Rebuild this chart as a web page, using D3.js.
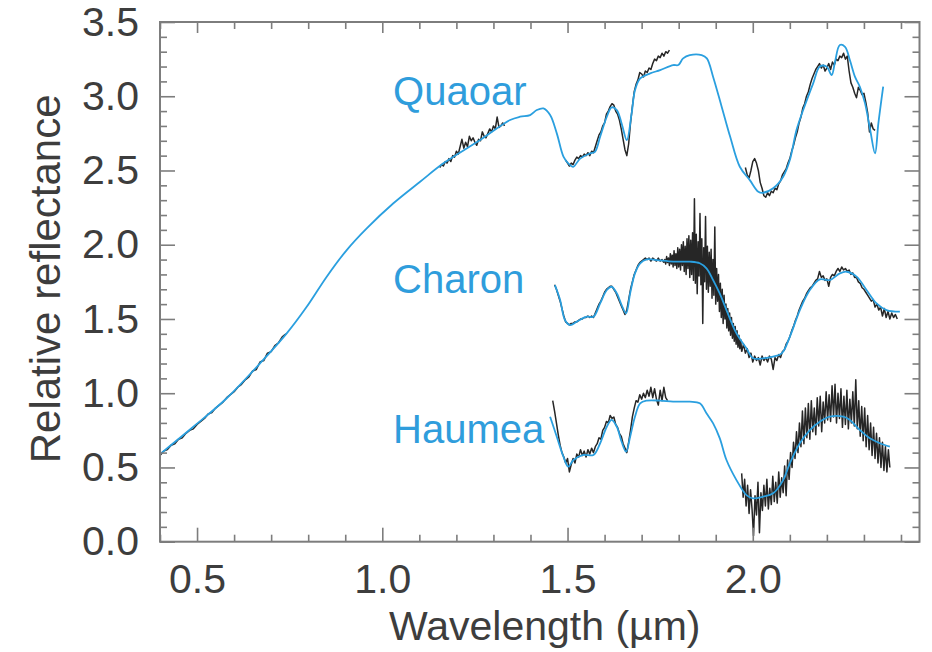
<!DOCTYPE html>
<html>
<head>
<meta charset="utf-8">
<script src="https://cdn.jsdelivr.net/npm/d3@7"></script>
<style>
  html, body { margin: 0; padding: 0; background: #fff; }
  svg { display: block; }
  text { font-family: "Liberation Sans", Arial, Helvetica, sans-serif; }
</style>
</head>
<body>
<svg id="chart" width="932" height="652"></svg>
<script>
// ---------------- DATA ----------------
const xMajorTicks = [0.5, 1.0, 1.5, 2.0];
const xMajorLabels = ["0.5", "1.0", "1.5", "2.0"];
const xMinorTicks = [0.4,0.6,0.7,0.8,0.9,1.1,1.2,1.3,1.4,1.6,1.7,1.8,1.9,2.1,2.2,2.3,2.4];
const yMajorTicks = [0.0, 0.5, 1.0, 1.5, 2.0, 2.5, 3.0, 3.5];
const yMajorLabels = ["0.0", "0.5", "1.0", "1.5", "2.0", "2.5", "3.0", "3.5"];
const yMinorTicks = [0.1,0.2,0.3,0.4,0.6,0.7,0.8,0.9,1.1,1.2,1.3,1.4,1.6,1.7,1.8,1.9,2.1,2.2,2.3,2.4,2.6,2.7,2.8,2.9,3.1,3.2,3.3,3.4];

const seriesNames = ["Quaoar", "Charon", "Haumea"];
// label anchor in data coords [wavelength, reflectance]
const labelAnchors = [[1.029, 2.94], [1.029, 1.677], [1.029, 0.663]];

// Model spectra (blue) [wavelength µm, relative reflectance]
const quaoarModel = [
  [0.40,0.59],[0.49,0.774],[0.58,0.966],[0.67,1.201],[0.742,1.403],[0.796,1.582],
  [0.85,1.785],[0.904,1.964],[0.958,2.11],[1.03,2.279],[1.102,2.424],[1.165,2.548],
  [1.264,2.705],[1.345,2.84],[1.372,2.862],[1.399,2.873],[1.417,2.907],[1.435,2.918],
  [1.453,2.873],[1.471,2.75],[1.489,2.593],[1.502,2.548],[1.515,2.525],[1.534,2.58],
  [1.561,2.615],[1.574,2.626],[1.588,2.727],[1.606,2.862],[1.619,2.925],[1.633,2.907],
  [1.646,2.817],[1.66,2.705],[1.673,2.884],[1.682,3.04],[1.696,3.12],[1.723,3.154],
  [1.75,3.176],[1.785,3.21],[1.799,3.21],[1.812,3.255],[1.83,3.277],[1.862,3.277],
  [1.876,3.255],[1.893,3.13],[1.916,2.93],[1.939,2.727],[1.965,2.525],[1.992,2.435],
  [2.015,2.357],[2.028,2.35],[2.055,2.38],[2.082,2.458],[2.1,2.57],[2.118,2.772],
  [2.136,2.907],[2.163,3.087],[2.181,3.2],[2.199,3.2],[2.213,3.143],[2.222,3.232],
  [2.235,3.345],[2.249,3.333],[2.262,3.244],[2.276,3.13],[2.289,3.064],[2.303,2.952],
  [2.317,2.772],[2.33,2.615],[2.339,2.817],[2.352,3.064]
];
const charonModel = [
  [1.466,1.728],[1.48,1.628],[1.493,1.493],[1.507,1.459],[1.525,1.482],[1.552,1.515],
  [1.570,1.515],[1.588,1.605],[1.606,1.695],[1.619,1.717],[1.633,1.673],[1.646,1.594],
  [1.658,1.538],[1.669,1.673],[1.682,1.807],[1.696,1.875],[1.714,1.902],[1.741,1.897],
  [1.785,1.886],[1.830,1.886],[1.857,1.875],[1.875,1.841],[1.893,1.762],[1.911,1.67],
  [1.929,1.56],[1.956,1.403],[1.983,1.302],[2.001,1.235],[2.028,1.235],[2.055,1.246],
  [2.078,1.268],[2.100,1.38],[2.127,1.56],[2.154,1.695],[2.181,1.767],[2.208,1.762],
  [2.235,1.807],[2.253,1.818],[2.280,1.785],[2.307,1.695],[2.334,1.605],[2.361,1.56],
  [2.397,1.549]
];
const haumeaModel = [
  [1.453,0.842],[1.471,0.707],[1.489,0.572],[1.502,0.505],[1.516,0.55],[1.543,0.584],
  [1.570,0.584],[1.588,0.663],[1.606,0.774],[1.619,0.82],[1.633,0.774],[1.646,0.673],
  [1.658,0.606],[1.669,0.707],[1.682,0.842],[1.696,0.932],[1.714,0.95],[1.750,0.95],
  [1.785,0.943],[1.830,0.943],[1.857,0.932],[1.875,0.865],[1.893,0.797],[1.911,0.696],
  [1.929,0.55],[1.956,0.415],[1.983,0.314],[2.001,0.292],[2.028,0.303],[2.055,0.326],
  [2.082,0.415],[2.100,0.528],[2.127,0.663],[2.154,0.752],[2.181,0.808],[2.208,0.842],
  [2.244,0.842],[2.262,0.82],[2.289,0.752],[2.316,0.696],[2.343,0.663],[2.370,0.64]
];

// Observed spectra (black): start wavelength, sampling step, reflectance values
const quaoarObs0 = { start: 0.40, step: 0.01, r: [
  0.58,0.61,0.62,0.65,0.66,0.69,0.70,0.73,0.75,0.76,0.79,0.81,0.83,0.86,0.87,0.90,0.92,0.94,
  0.97,0.99,1.01,1.04,1.06,1.09,1.11,1.15,1.16,1.21,1.22,1.27,1.28,1.32,1.34,1.38,1.40 ] };
const quaoarObs1 = { start: 1.155, step: 0.005, r: [
  2.52,2.54,2.53,2.56,2.55,2.58,2.56,2.60,2.59,2.63,2.61,2.66,2.71,2.65,2.69,2.66,2.73,2.70,
  2.72,2.69,2.67,2.71,2.70,2.76,2.73,2.72,2.75,2.78,2.76,2.80,2.78,2.86,2.79,2.80,2.82,2.80 ] };
const quaoarObs2 = { start: 1.495, step: 0.005, r: [
  2.57,2.55,2.53,2.55,2.54,2.57,2.59,2.58,2.60,2.59,2.61,2.60,2.62,2.60,2.63,2.62,2.66,2.70,
  2.74,2.76,2.80,2.82,2.88,2.90,2.93,2.95,2.94,2.90,2.88,2.84,2.78,2.71,2.64,2.60,2.68,2.82,
  2.93,3.03,3.08,3.11,3.16,3.15,3.13,3.17,3.16,3.19,3.18,3.22,3.25,3.24,3.27,3.26,3.29,3.27,
  3.30,3.29,3.31 ] };
const quaoarObs3 = { start: 1.98, step: 0.005, r: [
  2.52,2.47,2.45,2.50,2.56,2.58,2.55,2.50,2.42,2.38,2.33,2.32,2.35,2.33,2.36,2.35,2.38,2.37,
  2.41,2.43,2.47,2.49,2.51,2.55,2.58,2.63,2.67,2.72,2.76,2.82,2.86,2.92,2.95,3.00,3.03,3.08,
  3.12,3.15,3.18,3.20,3.22,3.19,3.21,3.17,3.19,3.22,3.18,3.23,3.21,3.25,3.24,3.27,3.26,3.29,
  3.25,3.27,3.17,3.09,3.06,3.02,2.99,3.06,3.04,3.01,3.02,2.96,2.89,2.76,2.82,2.78,2.77 ] };
const charonObs1 = { start: 1.465, step: 0.005, r: [
  1.73,1.70,1.66,1.62,1.57,1.52,1.48,1.47,1.46,1.47,1.47,1.48,1.48,1.49,1.50,1.50,1.51,1.51,
  1.52,1.51,1.52,1.51,1.54,1.57,1.60,1.62,1.65,1.68,1.70,1.71,1.72,1.72,1.70,1.68,1.65,1.62,
  1.59,1.56,1.53,1.56,1.63,1.70,1.75,1.80,1.83,1.86,1.88,1.89,1.90,1.91,1.90,1.91,1.89,1.91,
  1.90,1.89,1.91,1.89,1.90,1.88 ] };
const charonObs2 = { start: 1.76, step: 0.0025, r: [
  1.88,1.90,1.87,1.92,1.88,1.91,1.86,1.94,1.87,1.93,1.85,1.96,1.86,1.94,1.84,1.98,1.85,1.97,
  1.83,2.00,1.86,2.02,1.82,1.99,1.80,2.04,1.84,2.06,1.78,2.03,1.80,2.08,1.76,2.31,1.74,2.07,
  1.67,2.02,1.79,2.21,1.73,2.04,1.47,1.98,1.75,2.19,1.70,1.99,1.68,1.95,1.72,1.97,1.64,1.90,
  1.66,2.12,1.60,1.84,1.62,1.80,1.55,1.74,1.51,1.70,1.47,1.66,1.50,1.60,1.44,1.57,1.42,1.54,
  1.39,1.51,1.37,1.47,1.35,1.45,1.33,1.42,1.31,1.39,1.30,1.36,1.28 ] };
const charonObs3 = { start: 1.97, step: 0.005, r: [
  1.28,1.33,1.27,1.30,1.24,1.27,1.21,
  1.25,1.22,1.24,1.19,1.25,1.22,1.24,1.21,1.25,1.23,1.16,1.24,1.22,1.26,1.24,1.28,1.29,1.33,
  1.35,1.38,1.42,1.45,1.49,1.52,1.56,1.59,1.62,1.64,1.67,1.69,1.71,1.72,1.74,1.76,1.77,1.82,
  1.78,1.79,1.76,1.77,1.72,1.78,1.80,1.79,1.82,1.84,1.82,1.85,1.83,1.84,1.82,1.83,1.80,1.81,
  1.78,1.78,1.75,1.74,1.71,1.70,1.68,1.66,1.64,1.62,1.63,1.58,1.60,1.56,1.58,1.52,1.57,1.51,
  1.55,1.50,1.54,1.51,1.53,1.50 ] };
const haumeaObs1 = { start: 1.46, step: 0.005, r: [
  0.95,0.88,0.80,0.72,0.65,0.60,0.57,0.53,0.56,0.47,0.52,0.56,0.53,0.59,0.57,0.62,0.58,0.61,
  0.57,0.62,0.59,0.63,0.60,0.64,0.66,0.70,0.69,0.75,0.77,0.81,0.80,0.85,0.83,0.84,0.79,0.77,
  0.73,0.71,0.66,0.63,0.60,0.67,0.75,0.84,0.90,0.95,0.94,0.99,0.96,1.00,0.97,1.02,0.98,1.04,
  0.97,1.03,0.96,0.92,1.02,0.95,1.04,0.97,0.95 ] };
const haumeaObs2 = { start: 1.97, step: 0.004, r: [
  0.46,0.30,0.42,0.24,0.38,0.19,0.35,0.22,0.04,0.31,0.18,0.40,0.06,0.33,0.21,0.38,0.24,0.42,
  0.22,0.36,0.25,0.44,0.27,0.40,0.26,0.47,0.30,0.43,0.33,0.51,0.31,0.55,0.42,0.60,0.50,0.67,
  0.56,0.74,0.60,0.80,0.64,0.88,0.66,0.90,0.70,0.93,0.69,0.95,0.74,0.90,0.72,0.97,0.78,0.98,
  0.74,0.94,0.80,1.01,0.82,0.99,0.81,1.05,0.84,1.06,0.80,1.00,0.83,1.03,0.77,0.98,0.79,1.02,
  0.76,0.96,0.80,1.01,0.78,1.09,0.76,0.95,0.71,0.91,0.68,0.90,0.64,0.85,0.62,0.80,0.58,0.77,
  0.56,0.73,0.53,0.70,0.50,0.67,0.48,0.64,0.47,0.62,0.50 ] };

const modelSeries = [quaoarModel, charonModel, haumeaModel];
const obsSeries = [quaoarObs0, quaoarObs1, quaoarObs2, quaoarObs3,
                   charonObs1, charonObs2, charonObs3, haumeaObs1, haumeaObs2];

// ---------------- DRAWING ----------------
(function () {
const svg = d3.select("#chart");
const mLeft = 160, mRight = 919.5, mTop = 22, mBottom = 541.7;
const x = d3.scaleLinear().domain([0.4, 2.45]).range([mLeft, mRight]);
const y = d3.scaleLinear().domain([0, 3.5]).range([mBottom, mTop]);

const axisColor = "#7d7d7d";
const textColor = "#3d3d3d";
const blue = "#2a9fdf";

const toPoints = s => s.r.map((v, i) => [s.start + i * s.step, v]);

// observed spectra
const obsLine = d3.line().x(d => x(d[0])).y(d => y(d[1]));
svg.append("g").selectAll("path").data(obsSeries).join("path")
  .attr("d", s => obsLine(toPoints(s)))
  .attr("fill", "none").attr("stroke", "#262626")
  .attr("stroke-width", 1.5).attr("stroke-linejoin", "round");

// model spectra
const modelLine = d3.line().x(d => x(d[0])).y(d => y(d[1])).curve(d3.curveCatmullRom.alpha(0.5));
svg.append("g").selectAll("path").data(modelSeries).join("path")
  .attr("d", d => modelLine(d))
  .attr("fill", "none").attr("stroke", blue)
  .attr("stroke-width", 1.8).attr("stroke-linejoin", "round");

// series labels
svg.append("g").selectAll("text").data(seriesNames).join("text")
  .attr("x", (d, i) => x(labelAnchors[i][0]))
  .attr("y", (d, i) => y(labelAnchors[i][1]))
  .attr("fill", "#2f9ddc").attr("font-size", 40)
  .text(d => d);

// axes
function styleAxis(g) {
  g.select(".domain").remove();
  g.selectAll(".tick line").attr("stroke", axisColor).attr("stroke-width", 1.6);
  g.selectAll(".tick text").attr("fill", textColor).attr("font-size", 41)
    .attr("font-family", '"Liberation Sans", Arial, sans-serif');
}
// bottom
svg.append("g").attr("transform", `translate(0,${mBottom})`)
  .call(d3.axisBottom(x).tickValues(xMinorTicks).tickSize(-7).tickFormat("")).call(styleAxis);
svg.append("g").attr("transform", `translate(0,${mBottom})`)
  .call(d3.axisBottom(x).tickValues(xMajorTicks).tickSize(-14).tickPadding(22)
    .tickFormat((d, i) => xMajorLabels[i])).call(styleAxis);
// top
svg.append("g").attr("transform", `translate(0,${mTop})`)
  .call(d3.axisTop(x).tickValues(xMinorTicks).tickSize(-7).tickFormat("")).call(styleAxis);
svg.append("g").attr("transform", `translate(0,${mTop})`)
  .call(d3.axisTop(x).tickValues(xMajorTicks).tickSize(-11).tickFormat("")).call(styleAxis);
// left
svg.append("g").attr("transform", `translate(${mLeft},0)`)
  .call(d3.axisLeft(y).tickValues(yMinorTicks).tickSize(-7).tickFormat("")).call(styleAxis);
svg.append("g").attr("transform", `translate(${mLeft},0)`)
  .call(d3.axisLeft(y).tickValues(yMajorTicks).tickSize(-15).tickPadding(21)
    .tickFormat((d, i) => yMajorLabels[i])).call(styleAxis);
// right
svg.append("g").attr("transform", `translate(${mRight},0)`)
  .call(d3.axisRight(y).tickValues(yMinorTicks).tickSize(-7).tickFormat("")).call(styleAxis);
svg.append("g").attr("transform", `translate(${mRight},0)`)
  .call(d3.axisRight(y).tickValues(yMajorTicks).tickSize(-15).tickFormat("")).call(styleAxis);

// frame
svg.append("rect")
  .attr("x", mLeft).attr("y", mTop).attr("width", mRight - mLeft).attr("height", mBottom - mTop)
  .attr("fill", "none").attr("stroke", axisColor).attr("stroke-width", 2);

// axis titles
svg.append("text")
  .attr("x", (mLeft + mRight) / 2 + 5).attr("y", 640)
  .attr("text-anchor", "middle").attr("fill", textColor).attr("font-size", 41)
  .text("Wavelength (µm)");
svg.append("text")
  .attr("transform", `translate(60,${(mTop + mBottom) / 2 - 3}) rotate(-90)`)
  .attr("text-anchor", "middle").attr("fill", textColor).attr("font-size", 42)
  .text("Relative reflectance");
})();
</script>
</body>
</html>
